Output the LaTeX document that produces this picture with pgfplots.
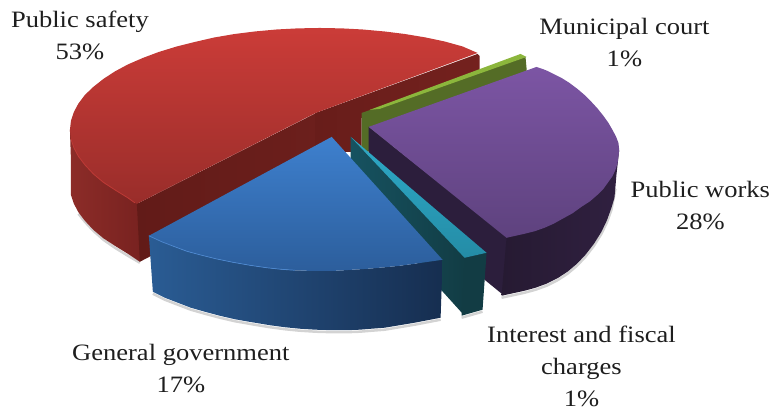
\documentclass[border=0pt]{standalone}
\usepackage{fontspec}
\setmainfont[FakeStretch=1.13]{Liberation Serif}
\usepackage{pgfplots}
\pgfplotsset{compat=1.18}
\definecolor{inkt}{HTML}{1E1E1E}
\definecolor{redSideL}{HTML}{8C2C28}
\definecolor{redSideR}{HTML}{782220}
\definecolor{redCutA}{HTML}{621B18}
\definecolor{redCutB}{HTML}{6C1F1C}
\definecolor{redCutC}{HTML}{681D1A}
\definecolor{redCutD}{HTML}{74211E}
\definecolor{redTopT}{HTML}{CB3C38}
\definecolor{redTopB}{HTML}{992D2A}
\definecolor{redEdge}{HTML}{BE3A36}
\definecolor{grnFace}{HTML}{546C26}
\definecolor{grnTop}{HTML}{8CB63C}
\definecolor{purCut}{HTML}{2C1E3C}
\definecolor{purSideL}{HTML}{261A32}
\definecolor{purSideR}{HTML}{302040}
\definecolor{purTopT}{HTML}{7C55A4}
\definecolor{purTopB}{HTML}{5E427E}
\definecolor{tealCutL}{HTML}{165260}
\definecolor{tealCutR}{HTML}{123C44}
\definecolor{tealTopT}{HTML}{2EAAC8}
\definecolor{tealTopB}{HTML}{248CA6}
\definecolor{bluSideL}{HTML}{2A5C94}
\definecolor{bluSideR}{HTML}{162E50}
\definecolor{bluTopT}{HTML}{3E80CE}
\definecolor{bluTopB}{HTML}{2C5E9C}
\definecolor{bluEdge}{HTML}{4C88D0}
\tikzset{lab/.style={align=center,text=inkt,inner sep=0pt,font=\fontsize{23.5bp}{32bp}\selectfont}}
\begin{document}
\begin{tikzpicture}
% fixes the page to the full drawing area
\path (0,0) rectangle (770bp,411bp);
\begin{axis}[
  at={(0,0)},anchor=south west,
  scale only axis,width=770bp,height=411bp,
  xmin=0,xmax=770,ymin=0,ymax=411,y dir=reverse,
  hide axis,clip=false]

% soft shadows under the slices
\addplot[draw=gray,opacity=.35,line width=2.5pt] coordinates {(78.5,214)(85,222)(93.4,231)(103.5,240)(115,248)(128,256)(140,263)};
\addplot[draw=gray,opacity=.35,line width=2.5pt] coordinates {(153,294)(165,300)(178,305)(191,310)(205,314)(220,318)(235,321.5)(252,324.5)(270,327.5)(285,329.5)(300,331)(316,332)(333,332.5)(347,332.5)(360,332)(372,331)(385,330)(400,327.5)(415,325)(428,322.5)(441,320)};
\addplot[draw=gray,opacity=.35,line width=2.5pt] coordinates {(462,318)(483,312)};
\addplot[draw=gray,opacity=.35,line width=2.5pt] coordinates {(502,298)(513.5,295.5)(525,293)(536,290)(547,286)(558,280.5)(568,274)(577.5,266)(586,257)(594.5,246)(602,234)(607.5,222.5)(612,210)(616,189)};

% Public safety, 53%
\addplot[draw=none,left color=redSideL,right color=redSideR]
  coordinates {(70,130)(71,160)(71,195)(74,204)(78.5,212.5)(85,221)(93.4,230)(103.5,238.5)(115,246)(128,254)(140,262)(141,260)(140,204)};
\addplot[draw=none,left color=redCutA,right color=redCutB]
  coordinates {(137,204)(318,112.3)(318,169)(140,262)};
\addplot[draw=none,left color=redCutC,right color=redCutD]
  coordinates {(316,113)(478,54)(480,56)(480,72)(362,118)(362,152)(345,152)(316,170)};
\addplot[draw=none,top color=redTopT,bottom color=redTopB]
  coordinates {(478,53)(463,46.5)(445,41.5)(426,37.5)(405,34)(385,31.5)(363,29.5)(342,28.4)(320,28)(298,28.4)(277,29.5)(255,31.5)(235,34)(214,37.6)(195,42)(177,46.5)(159,52)(143,58)(128,64.5)(115,71.5)(103.5,79)(93.4,87)(85,95)(78.5,103.6)(74,112)(71,121)(70,130)(71,139)(74,148)(78.5,156.5)(85,165)(93.4,174)(103.5,182.5)(115,190)(128,198)(137,204)(316,113)};
\addplot[draw=redEdge,line width=.8pt]
  coordinates {(71,139)(74,148)(78.5,156.5)(85,165)(93.4,174)(103.5,182.5)(115,190)(128,198)(135,203)};

% Municipal court, 1%
\addplot[fill=grnFace,draw=none]
  coordinates {(362,113)(526,57)(527,68)(527,95)(368,152)(362,155)};
\addplot[fill=grnTop,draw=none]
  coordinates {(370,110)(521,54)(527,57)(380,109)};

% Public works, 28%
\addplot[fill=purCut,draw=none]
  coordinates {(369,127)(509,238)(504,295.5)(369,185)};
\addplot[draw=none,left color=purSideL,right color=purSideR]
  coordinates {(619.8,150)(619,157)(617,175)(616,187)(615,198)(612,208)(607.5,220.5)(602,232)(594.5,244)(586,255)(577.5,264)(568,272)(558,278.5)(547,284)(536,288)(525,291)(513.5,293.5)(502,296)(507,238)};
\addplot[draw=none,top color=purTopT,bottom color=purTopB]
  coordinates {(369,127)(537,67)(543,69)(548,71)(555,74.5)(562,78)(570,83)(578,89)(585,95)(592,102)(598,108.5)(604,116)(609,123)(613,130)(616.5,136.5)(619,143)(619.8,150)(619,157)(618,164)(616,170)(613,176.5)(609,182)(604,189)(598,195)(590.5,201.5)(582,207)(573,213.5)(563,219)(554,224)(545,228)(535,231.5)(525,234)(516,236)(507,238)};

% Interest and fiscal charges, 1%
\addplot[draw=none,left color=tealCutL,right color=tealCutR]
  coordinates {(351,137)(467,258)(464,315)(351,190)};
\addplot[fill=tealCutR,draw=none]
  coordinates {(465,258)(487,253)(483,310)(462,316)};
\addplot[draw=none,top color=tealTopT,bottom color=tealTopB]
  coordinates {(351,137)(487,253)(465,258)};

% General government, 17%
\addplot[draw=none,left color=bluSideL,right color=bluSideR]
  coordinates {(149,236)(162,242)(175,247)(187,251.5)(200,255)(216,259)(233,262.5)(250,265.5)(267,268)(281,269.5)(295,270.5)(307,271)(320,271)(336,271)(352,270)(368,269)(385,267.5)(400,266)(415,264)(429,262)(443,260)(441,318)(428,320.5)(415,323)(400,325.5)(385,328)(372,329)(360,330)(347,330.5)(333,330.5)(316,330)(300,329)(285,327.5)(270,325.5)(252,322.5)(235,319.5)(220,316)(205,312)(191,308)(178,303)(165,298)(153,292)};
\addplot[draw=none,top color=bluTopT,bottom color=bluTopB]
  coordinates {(332,137)(443,260)(429,262)(415,264)(400,266)(385,267.5)(368,269)(352,270)(336,271)(320,271)(307,271)(295,270.5)(281,269.5)(267,268)(250,265.5)(233,262.5)(216,259)(200,255)(187,251.5)(175,247)(162,242)(149,236)};
\addplot[draw=bluEdge,line width=.7pt]
  coordinates {(149,236)(162,242)(175,247)(187,251.5)(200,255)(216,259)(233,262.5)(250,265.5)(267,268)(281,269.5)(295,270.5)};

\node[lab] at (axis cs:80,35) {Public safety\\53\%};
\node[lab] at (axis cs:625,43) {Municipal court\\1\%};
\node[lab] at (axis cs:701,206) {Public works\\28\%};
\node[lab] at (axis cs:582,366.5) {Interest and fiscal\\charges\\1\%};
\node[lab] at (axis cs:181,369) {General government\\17\%};
\end{axis}
\end{tikzpicture}
\end{document}
